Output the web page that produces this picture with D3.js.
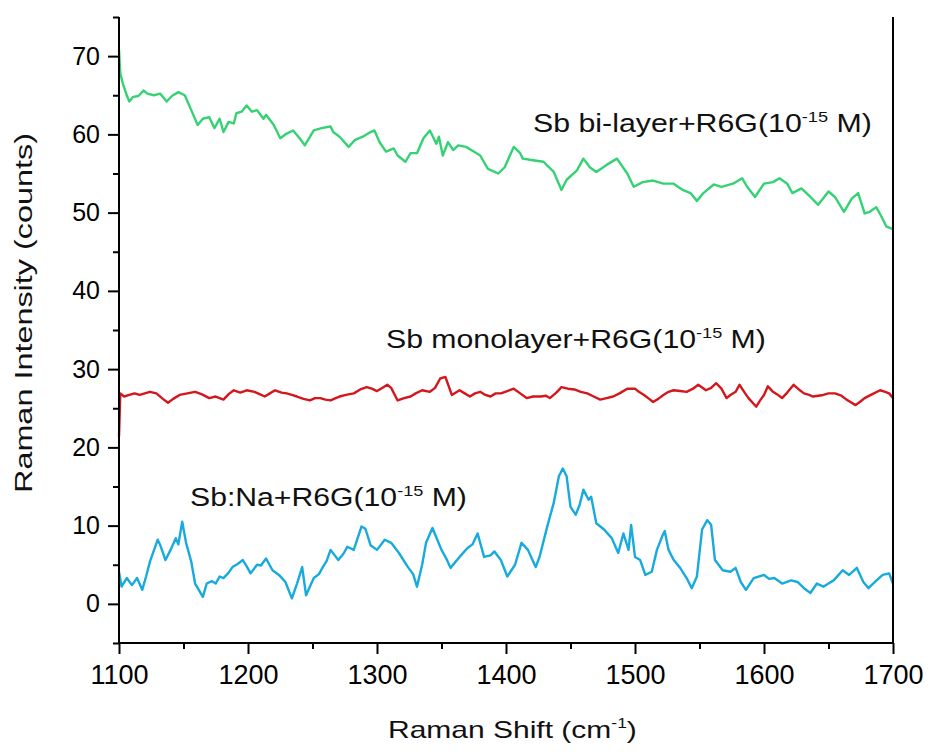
<!DOCTYPE html>
<html>
<head>
<meta charset="utf-8">
<script src="https://cdn.jsdelivr.net/npm/d3@7/dist/d3.min.js"></script>
<style>
  html, body { margin: 0; padding: 0; background: #fff; }
  svg { display: block; font-family: "Liberation Sans", Arial, sans-serif; }
</style>
</head>
<body>
<svg id="chart" width="935" height="754"></svg>
<script>
// Raman spectra of R6G (10^-15 M) on three substrates: [shift (cm-1), counts]
const biLayer = [
  [1100,70.8],[1101,67.8],[1103,66.5],[1106,65.0],[1108,64.2],[1111,64.8],[1115,64.9],[1119,65.6],[1122,65.2],
  [1127,65.0],[1132,65.2],[1137,64.2],[1141,64.9],[1146,65.4],[1151,65.0],[1156,63.1],[1161,61.2],[1165,62.0],
  [1170,62.2],[1174,60.8],[1178,62.0],[1181,60.3],[1185,61.6],[1189,61.4],[1191,62.7],[1195,62.9],[1199,63.7],
  [1203,62.9],[1207,63.1],[1212,62.0],[1214,62.5],[1220,61.2],[1225,59.5],[1230,60.1],[1235,60.5],[1240,59.5],
  [1244,58.6],[1251,60.5],[1257,60.8],[1264,61.0],[1266,60.3],[1271,59.7],[1278,58.4],[1283,59.3],[1289,59.7],
  [1295,60.3],[1298,60.5],[1302,59.0],[1307,57.8],[1313,58.2],[1316,57.3],[1322,56.5],[1326,57.6],[1331,57.6],
  [1336,59.5],[1341,60.5],[1346,58.8],[1348,59.7],[1351,57.3],[1355,59.0],[1359,58.0],[1363,58.6],[1369,58.4],
  [1375,57.8],[1380,57.3],[1386,55.6],[1394,55.0],[1399,55.8],[1406,58.4],[1411,57.6],[1413,56.9],[1421,56.7],
  [1429,56.5],[1437,55.2],[1443,52.9],[1447,54.2],[1455,55.4],[1460,56.9],[1465,55.8],[1470,55.2],[1478,56.1],
  [1486,56.9],[1494,55.0],[1499,53.3],[1506,53.9],[1514,54.1],[1522,53.7],[1530,53.7],[1537,52.9],[1543,52.5],
  [1548,51.5],[1553,52.5],[1561,53.6],[1567,53.3],[1576,53.7],[1583,54.4],[1587,53.3],[1593,52.0],[1600,53.7],
  [1607,53.9],[1612,54.4],[1618,53.7],[1622,52.5],[1629,53.1],[1636,52.0],[1642,51.0],[1650,52.7],[1655,52.0],
  [1662,50.1],[1668,51.8],[1673,52.5],[1678,49.9],[1682,50.1],[1687,50.7],[1691,49.5],[1695,48.2],[1700,47.9]
];

const monolayer = [
  [1100,21.4],[1101,26.9],[1104,26.5],[1108,26.7],[1112,26.9],[1116,26.7],[1120,26.9],[1124,27.1],[1129,26.9],
  [1134,26.2],[1138,25.7],[1142,26.2],[1147,26.7],[1153,26.9],[1159,27.1],[1164,26.8],[1170,26.3],[1175,26.5],
  [1181,26.1],[1185,26.8],[1189,27.3],[1194,27.0],[1199,27.3],[1205,27.1],[1209,26.8],[1213,26.5],[1217,26.9],
  [1221,27.3],[1226,27.0],[1230,26.9],[1234,26.7],[1238,26.5],[1243,26.2],[1248,26.0],[1252,26.3],[1256,26.3],
  [1260,26.1],[1264,26.0],[1268,26.3],[1271,26.5],[1276,26.7],[1282,26.9],[1287,27.4],[1292,27.7],[1296,27.5],
  [1300,27.2],[1304,27.6],[1308,28.0],[1311,27.6],[1316,26.0],[1321,26.3],[1326,26.5],[1330,26.9],[1335,27.3],
  [1341,27.1],[1345,27.6],[1349,28.8],[1353,29.0],[1358,26.7],[1364,27.3],[1368,26.9],[1372,26.5],[1376,26.9],
  [1380,27.1],[1384,26.7],[1388,26.5],[1392,26.9],[1396,26.9],[1401,27.2],[1406,27.5],[1411,26.9],[1416,26.3],
  [1421,26.5],[1427,26.5],[1431,26.6],[1434,26.3],[1439,27.0],[1443,27.7],[1448,27.5],[1453,27.4],[1458,27.1],
  [1463,26.9],[1468,26.5],[1473,26.1],[1478,26.3],[1483,26.5],[1488,26.9],[1494,27.5],[1500,27.5],[1503,27.1],
  [1507,26.7],[1511,26.2],[1514,25.8],[1518,26.2],[1522,26.7],[1526,27.1],[1530,27.3],[1535,27.2],[1540,27.1],
  [1545,27.5],[1549,28.0],[1555,27.3],[1559,27.6],[1563,28.2],[1567,27.5],[1571,26.3],[1574,26.7],[1578,27.1],
  [1581,28.0],[1585,27.0],[1588,26.3],[1594,25.2],[1597,26.0],[1600,26.7],[1603,27.8],[1607,27.1],[1610,26.8],
  [1614,26.3],[1618,27.0],[1623,28.0],[1627,27.4],[1631,26.9],[1635,26.7],[1638,26.5],[1642,26.6],[1646,26.7],
  [1650,26.9],[1655,26.9],[1660,26.6],[1664,26.1],[1667,25.8],[1671,25.4],[1675,25.9],[1678,26.3],[1684,26.8],
  [1690,27.3],[1694,27.1],[1697,26.9],[1700,26.3]
];

const sbNa = [
  [1100,4.1],[1102,2.2],[1106,3.3],[1110,2.4],[1114,3.3],[1118,1.8],[1121,3.5],[1124,5.4],[1130,8.2],[1132,7.5],
  [1136,5.6],[1140,6.9],[1144,8.4],[1146,7.6],[1149,10.5],[1152,7.8],[1156,5.4],[1159,2.6],[1165,0.9],[1168,2.6],
  [1172,2.9],[1175,2.6],[1178,3.5],[1181,3.3],[1185,4.0],[1188,4.7],[1192,5.1],[1196,5.6],[1199,4.8],[1202,3.9],
  [1207,5.0],[1210,4.9],[1214,5.8],[1219,4.3],[1224,3.7],[1229,2.8],[1234,0.7],[1238,2.6],[1242,4.7],[1245,1.1],
  [1251,3.3],[1255,3.8],[1258,4.7],[1261,5.5],[1264,6.9],[1270,5.6],[1274,6.4],[1277,7.3],[1282,6.9],[1288,9.9],
  [1291,9.6],[1295,7.5],[1300,6.9],[1306,8.2],[1311,7.8],[1317,6.5],[1324,4.7],[1328,3.8],[1331,2.2],[1335,5.0],
  [1338,7.8],[1343,9.7],[1350,6.9],[1354,5.7],[1357,4.6],[1364,6.0],[1370,7.1],[1374,7.6],[1378,9.0],[1383,6.0],
  [1388,6.2],[1391,6.7],[1396,5.6],[1401,3.5],[1407,5.0],[1412,7.8],[1417,6.9],[1423,4.7],[1426,6.0],[1432,9.9],
  [1437,12.9],[1441,16.3],[1444,17.3],[1447,16.3],[1450,12.4],[1454,11.4],[1457,12.6],[1460,14.6],[1464,13.3],
  [1466,13.7],[1470,10.3],[1476,9.5],[1482,8.4],[1487,6.5],[1491,9.0],[1495,6.9],[1497,10.1],[1500,6.0],[1504,5.6],
  [1508,3.7],[1513,4.1],[1517,6.9],[1521,8.6],[1523,9.3],[1526,6.9],[1530,5.6],[1535,4.6],[1540,3.3],[1544,2.0],
  [1548,3.5],[1552,9.5],[1556,10.7],[1559,10.1],[1562,5.6],[1568,4.3],[1574,4.1],[1578,4.6],[1582,2.8],[1586,1.8],
  [1592,3.3],[1600,3.7],[1604,3.2],[1608,3.3],[1614,2.6],[1621,3.0],[1626,2.8],[1631,2.0],[1636,1.4],[1641,2.6],
  [1646,2.2],[1650,2.6],[1654,3.0],[1661,4.3],[1666,3.7],[1672,4.6],[1677,2.8],[1681,2.0],[1686,2.8],[1692,3.7],
  [1697,3.9],[1700,2.6]
];

const xMajorTicks = [1100, 1200, 1300, 1400, 1500, 1600, 1700];
const xMinorTicks = [1150, 1250, 1350, 1450, 1550, 1650];
const yMajorTicks = [0, 10, 20, 30, 40, 50, 60, 70];
const yMinorTicks = [-5, 5, 15, 25, 35, 45, 55, 65, 75];
const xDomain = [1100, 1700];
const yDomain = [-5, 75];

const seriesNames = ["Sb bi-layer+R6G(10", "Sb monolayer+R6G(10", "Sb:Na+R6G(10"];
const seriesData = [biLayer, monolayer, sbNa];
const seriesColors = ["#35d274", "#d4161d", "#17aadd"];

const svg = d3.select("#chart");
const plot = { left: 119, right: 893, top: 17, bottom: 643 };

const x = d3.scaleLinear().domain(xDomain).range([plot.left, plot.right]);
const y = d3.scaleLinear().domain(yDomain).range([plot.bottom, plot.top]);

// spectra
const line = d3.line().x(d => x(d[0])).y(d => y(d[1]));
seriesData.forEach((data, i) => {
  svg.append("path")
    .datum(data)
    .attr("fill", "none")
    .attr("stroke", seriesColors[i])
    .attr("stroke-width", 2.4)
    .attr("stroke-linejoin", "round")
    .attr("d", line);
});

// axes
function styleAxis(g) {
  g.select(".domain").remove();
  g.selectAll(".tick line").attr("stroke", "#000").attr("stroke-width", 2);
  g.selectAll(".tick text").attr("fill", "#000");
}

svg.append("g")
  .attr("transform", `translate(0,${plot.bottom})`)
  .call(d3.axisBottom(x).tickValues(xMajorTicks).tickSize(11).tickPadding(11).tickFormat(d3.format("d")))
  .call(styleAxis)
  .call(g => g.selectAll(".tick text").attr("font-size", 27).attr("font-family", "Liberation Sans, Arial, sans-serif"));

svg.append("g")
  .attr("transform", `translate(0,${plot.bottom})`)
  .call(d3.axisBottom(x).tickValues(xMinorTicks).tickSize(6).tickFormat(""))
  .call(styleAxis);

svg.append("g")
  .attr("transform", `translate(${plot.left},0)`)
  .call(d3.axisLeft(y).tickValues(yMajorTicks).tickSize(11).tickPadding(8).tickFormat(d3.format("d")))
  .call(styleAxis)
  .call(g => g.selectAll(".tick text").attr("font-size", 25).attr("font-family", "Liberation Sans, Arial, sans-serif"));

svg.append("g")
  .attr("transform", `translate(${plot.left},0)`)
  .call(d3.axisLeft(y).tickValues(yMinorTicks).tickSize(6).tickFormat(""))
  .call(styleAxis);

// frame lines: left, bottom, right
const frame = svg.append("g").attr("stroke", "#000").attr("stroke-width", 2).attr("fill", "none");
frame.append("line").attr("x1", plot.left).attr("x2", plot.left).attr("y1", plot.top).attr("y2", plot.bottom + 1);
frame.append("line").attr("x1", plot.right).attr("x2", plot.right).attr("y1", plot.top).attr("y2", plot.bottom + 1);
frame.append("line").attr("x1", plot.left - 1).attr("x2", plot.right + 1).attr("y1", plot.bottom).attr("y2", plot.bottom);

// text stretched horizontally to a target width
function stretchText(t, tx, ty, width, rotate) {
  const w = t.node().getComputedTextLength();
  const s = width / w;
  t.attr("transform", `translate(${tx},${ty})${rotate ? " rotate(-90)" : ""} scale(${s},1)`);
}

// series labels with superscript exponent
const labelPos = [
  { x: 533, y: 132, w: 339 },
  { x: 386, y: 348, w: 380 },
  { x: 190, y: 506, w: 277 }
];
seriesNames.forEach((name, i) => {
  const t = svg.append("text")
    .attr("font-size", 25)
    .attr("fill", "#111");
  t.append("tspan").text(name);
  t.append("tspan").attr("font-size", 15).attr("dy", -10).text("-15");
  t.append("tspan").attr("dy", 10).text(" M)");
  stretchText(t, labelPos[i].x, labelPos[i].y, labelPos[i].w, false);
});

// axis titles
const xt = svg.append("text").attr("font-size", 24).attr("fill", "#111");
xt.append("tspan").text("Raman Shift (cm");
xt.append("tspan").attr("font-size", 14).attr("dy", -10).text("-1");
xt.append("tspan").attr("dy", 10).text(")");
stretchText(xt, 388, 738, 249, false);

const yt = svg.append("text").attr("font-size", 24).attr("fill", "#111")
  .text("Raman Intensity (counts)");
stretchText(yt, 32, 493, 360, true);
</script>
</body>
</html>
